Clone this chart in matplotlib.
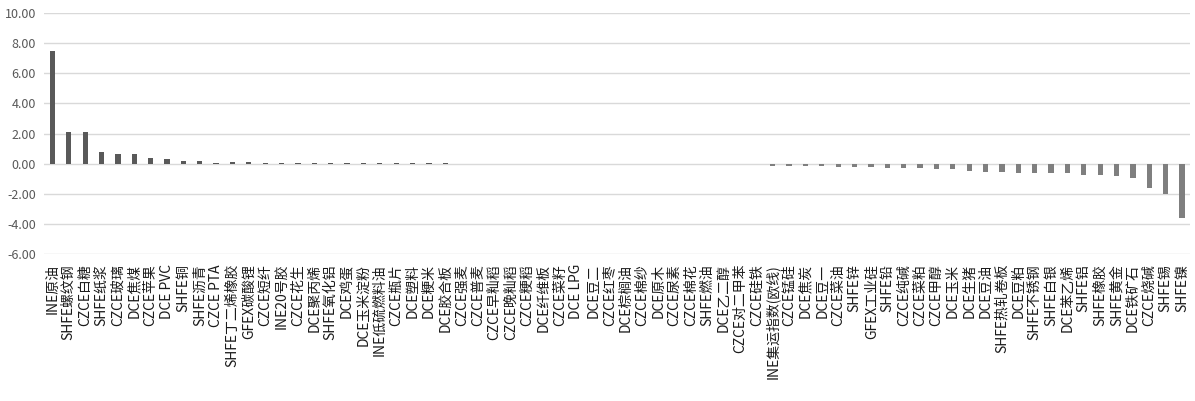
import numpy as np
import matplotlib
matplotlib.use("Agg")
import matplotlib.pyplot as plt

plt.rcParams['font.family'] = ['Noto Sans CJK SC', 'DejaVu Sans']

# Categories (left to right) and their values
labels = [
    "INE原油", "SHFE螺纹钢", "CZCE白糖", "SHFE纸浆", "CZCE玻璃", "DCE焦煤", "CZCE苹果",
    "DCE PVC", "SHFE铜", "SHFE沥青", "CZCE PTA", "SHFE丁二烯橡胶", "GFEX碳酸锂", "CZCE短纤",
    "INE20号胶", "CZCE花生", "DCE聚丙烯", "SHFE氧化铝", "DCE鸡蛋", "DCE玉米淀粉", "INE低硫燃料油",
    "CZCE瓶片", "DCE塑料", "DCE粳米", "DCE胶合板", "CZCE强麦", "CZCE普麦", "CZCE早籼稻",
    "CZCE晚籼稻", "CZCE粳稻", "DCE纤维板", "CZCE菜籽", "DCE LPG", "DCE豆二", "CZCE红枣",
    "DCE棕榈油", "CZCE棉纱", "DCE原木", "CZCE尿素", "CZCE棉花", "SHFE燃油", "DCE乙二醇",
    "CZCE对二甲苯", "CZCE硅铁", "INE集运指数(欧线)", "CZCE锰硅", "DCE焦炭", "DCE豆一", "CZCE菜油",
    "SHFE锌", "GFEX工业硅", "SHFE铅", "CZCE纯碱", "CZCE菜粕", "CZCE甲醇", "DCE玉米",
    "DCE生猪", "DCE豆油", "SHFE热轧卷板", "DCE豆粕", "SHFE不锈钢", "SHFE白银", "DCE苯乙烯",
    "SHFE铝", "SHFE橡胶", "SHFE黄金", "DCE铁矿石", "CZCE烧碱", "SHFE锡", "SHFE镍",
]
values = [
    7.48, 2.12, 2.07, 0.79, 0.66, 0.66, 0.40,
    0.33, 0.20, 0.20, 0.07, 0.13, 0.13, 0.07,
    0.07, 0.07, 0.07, 0.07, 0.07, 0.07, 0.07,
    0.06, 0.06, 0.06, 0.06, 0.00, 0.00, 0.00,
    0.00, 0.00, 0.00, 0.00, 0.00, 0.00, 0.00,
    0.00, 0.00, -0.05, -0.05, 0.00, 0.00, 0.00,
    -0.05, -0.05, -0.15, -0.15, -0.15, -0.15, -0.24,
    -0.24, -0.24, -0.31, -0.31, -0.31, -0.38, -0.38,
    -0.51, -0.56, -0.56, -0.64, -0.64, -0.64, -0.64,
    -0.78, -0.78, -0.84, -0.98, -1.58, -1.98, -3.63,
]
yticks = [10, 8, 6, 4, 2, 0, -2, -4, -6]

x = np.arange(len(labels))
colors = ['#595959' if v >= 0 else '#7f7f7f' for v in values]

fig = plt.figure(figsize=(11.95, 4.01), dpi=100)
ax = fig.add_axes([0.037, 0.366, 0.959, 0.602])

ax.bar(x, values, width=0.32, color=colors, zorder=3)

ax.set_ylim(-6, 10)
ax.set_yticks(yticks)
ax.set_yticklabels([f"{t:.2f}" for t in yticks])
ax.set_xlim(-0.5, len(labels) - 0.5)
ax.set_xticks(x)
ax.set_xticklabels(labels, rotation=90, va='top', ha='center')

ax.grid(axis='y', color='#d9d9d9', linewidth=1.0, zorder=0)
for s in ax.spines.values():
    s.set_visible(False)
ax.tick_params(axis='y', length=0, pad=6, labelsize=9, labelcolor='#595959')
ax.tick_params(axis='x', length=0, pad=7, labelsize=10, labelcolor='#1a1a1a')

fig.savefig("out.png", dpi=100)
